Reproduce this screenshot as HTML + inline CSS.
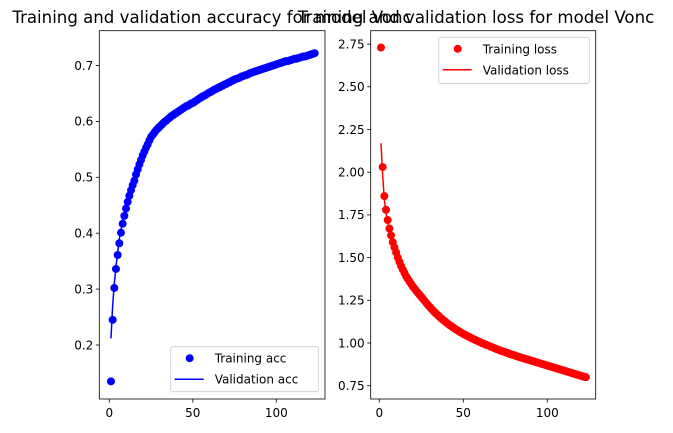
<!DOCTYPE html>
<html><head><meta charset="utf-8"><style>
body{margin:0;background:#fff;}
svg{display:block;font-family:"DejaVu Sans","Liberation Sans",sans-serif;}
</style></head><body>
<svg id="fig" width="673" height="433" viewBox="0 0 673 433" xmlns="http://www.w3.org/2000/svg">
<rect width="673" height="433" fill="#fff"/>
</svg>
<script>
const accTrain=[.135,.245,.302,.336,.361,.382,.401,.417,.431,.444,.456,.467,.477,.486,.494,.505,.514,.523,.531,.539,.546,.553,.559,.566,.572,.576,.580,.584,.587,.590,.593,.596,.599,.601,.604,.606,.609,.611,.613,.615,.617,.619,.621,.623,.625,.627,.628,.630,.632,.633,.635,.637,.639,.641,.643,.645,.646,.648,.650,.652,.653,.655,.657,.658,.660,.661,.663,.664,.666,.667,.669,.670,.672,.673,.675,.676,.677,.678,.680,.681,.682,.683,.684,.686,.687,.688,.689,.690,.691,.692,.693,.694,.695,.696,.697,.698,.699,.700,.701,.702,.703,.704,.705,.706,.707,.708,.708,.709,.710,.711,.712,.712,.713,.714,.715,.716,.716,.717,.718,.719,.720,.721,.722];
const accVal=[.212,.27,.31,.34,.365,.39,.405,.425,.435,.452,.46,.475,.482,.495,.50,.512,.518,.53,.535,.548,.55,.562,.56,.575,.578,.58,.586,.59,.588,.596,.595,.60,.603,.605,.61,.607,.615,.612,.618,.614,.62,.622,.62,.628,.626,.632,.627,.634,.631,.638,.634,.64,.638,.645,.642,.648,.645,.652,.649,.655,.652,.658,.656,.66,.657,.664,.66,.667,.663,.67,.668,.668,.675,.671,.678,.674,.676,.68,.679,.683,.68,.685,.682,.688,.685,.69,.687,.691,.69,.694,.691,.696,.693,.698,.695,.7,.697,.702,.699,.704,.701,.705,.703,.707,.705,.709,.706,.711,.708,.712,.71,.714,.711,.716,.713,.717,.715,.719,.716,.721,.718,.723,.72];
const lossTrain=[2.73,2.03,1.86,1.78,1.72,1.67,1.63,1.59,1.56,1.53,1.50,1.475,1.45,1.43,1.41,1.39,1.375,1.36,1.345,1.33,1.318,1.306,1.294,1.282,1.27,1.258,1.246,1.234,1.222,1.211,1.200,1.190,1.180,1.170,1.161,1.152,1.143,1.135,1.127,1.119,1.111,1.104,1.097,1.090,1.083,1.077,1.071,1.065,1.059,1.053,1.048,1.043,1.038,1.033,1.028,1.023,1.018,1.014,1.009,1.005,1.000,.996,.992,.988,.984,.980,.976,.972,.968,.964,.960,.956,.953,.949,.946,.942,.939,.935,.932,.929,.926,.922,.919,.916,.913,.910,.907,.904,.901,.898,.895,.892,.889,.886,.883,.880,.877,.874,.871,.868,.865,.862,.859,.856,.853,.850,.847,.844,.841,.838,.835,.832,.829,.826,.823,.820,.817,.814,.811,.808,.805,.802,.800];
const lossVal=[2.17,1.98,1.84,1.76,1.71,1.655,1.62,1.58,1.545,1.525,1.49,1.47,1.44,1.425,1.40,1.385,1.365,1.355,1.335,1.325,1.31,1.30,1.285,1.278,1.26,1.255,1.238,1.232,1.215,1.208,1.192,1.188,1.172,1.168,1.152,1.15,1.135,1.132,1.118,1.115,1.102,1.10,1.088,1.087,1.075,1.074,1.062,1.062,1.05,1.05,1.04,1.04,1.03,1.03,1.02,1.02,1.01,1.011,1.0,1.002,.992,.993,.985,.985,.977,.977,.968,.969,.96,.961,.953,.953,.946,.946,.939,.939,.932,.932,.926,.925,.919,.918,.912,.912,.906,.906,.9,.9,.894,.894,.888,.888,.882,.882,.876,.876,.871,.87,.865,.864,.859,.858,.853,.852,.847,.846,.841,.84,.835,.834,.829,.828,.823,.822,.817,.816,.811,.81,.806,.804,.801,.798,.795];
const accTicks=[0.2,0.3,0.4,0.5,0.6,0.7];
const lossTicks=[0.75,1.00,1.25,1.50,1.75,2.00,2.25,2.50,2.75];
const epochTicks=[0,50,100];

const svg=document.getElementById('fig');
const NS='http://www.w3.org/2000/svg';
function mk(tag,attrs,parent){const e=document.createElementNS(NS,tag);for(const k in attrs)e.setAttribute(k,attrs[k]);(parent||svg).appendChild(e);return e;}

const L={x0:99.3,x1:325,y0:30.7,y1:399,xs:e=>109.3+e*1.67,ys:v=>345-(v-0.2)*559};
const R={x0:370.7,x1:595.7,y0:30.7,y1:399,xs:e=>379.3+e*1.68,ys:v=>385.7-(v-0.75)*170.8};

function drawAxes(A,yticks,fmt,name){
  const g=mk('g',{});
  
  
  for(const t of yticks){const y=A.ys(t);
    const tk=mk('line',{x1:A.x0-3.5,x2:A.x0,y1:y,y2:y,stroke:'#000','stroke-width':0.8},g);
    
    const tx=mk('text',{x:A.x0-6,y:y+4.3,'text-anchor':'end','font-size':12},g);tx.textContent=fmt(t);
    }
  for(const t of epochTicks){const x=A.xs(t);
    const tk=mk('line',{x1:x,x2:x,y1:A.y1,y2:A.y1+3.5,stroke:'#000','stroke-width':0.8},g);
    
    const tx=mk('text',{x:x,y:A.y1+18,'text-anchor':'middle','font-size':12},g);tx.textContent=t;
    }
  return g;
}
function drawSeries(A,train,val,color,name){
  const g=mk('g',{fill:color});
  
  train.forEach((v,i)=>{const c=mk('circle',{cx:A.xs(i+1),cy:A.ys(v),r:4},g);
    });
  const pts=val.map((v,i)=>A.xs(i+1).toFixed(2)+','+A.ys(v).toFixed(2)).join(' ');
  const pl=mk('polyline',{points:pts,fill:'none',stroke:color,'stroke-width':1.5,'stroke-linejoin':'round'});
  
}
function frame(A,name){const r=mk('rect',{x:A.x0,y:A.y0,width:A.x1-A.x0,height:A.y1-A.y0,fill:'none',stroke:'#000','stroke-width':0.8});
  }
function legend(x,y,w,h,color,l1,l2,name){
  const g=mk('g',{});
  mk('rect',{x:x,y:y,width:w,height:h,rx:2,fill:'#fff','fill-opacity':0.8,stroke:'#ccc','stroke-width':0.8},g);
  mk('circle',{cx:x+19,cy:y+11.5,r:4,fill:color},g);
  const t1=mk('text',{x:x+44,y:y+16,'font-size':12},g);t1.textContent=l1;
  
  mk('line',{x1:x+4,x2:x+33,y1:y+32.5,y2:y+32.5,stroke:color,'stroke-width':1.5},g);
  const t2=mk('text',{x:x+44,y:y+37,'font-size':12},g);t2.textContent=l2;
  
}

drawAxes(L,accTicks,t=>t.toFixed(1),'accuracy');
drawSeries(L,accTrain,accVal,'#0000ff','accuracy');
frame(L,'accuracy');
legend(170.7,346.7,147.6,45,'#0000ff','Training acc','Validation acc','accuracy');

drawAxes(R,lossTicks,t=>t.toFixed(2),'loss');
drawSeries(R,lossTrain,lossVal,'#ff0000','loss');
frame(R,'loss');
legend(438.7,37.3,150.6,46,'#ff0000','Training loss','Validation loss','loss');

const t1=mk('text',{x:212,y:23,'text-anchor':'middle','font-size':16.6});
t1.textContent='Training and validation accuracy for model Vonc';

const t2=mk('text',{x:476,y:23,'text-anchor':'middle','font-size':16.6});
t2.textContent='Training and validation loss for model Vonc';

</script>
</body></html>
